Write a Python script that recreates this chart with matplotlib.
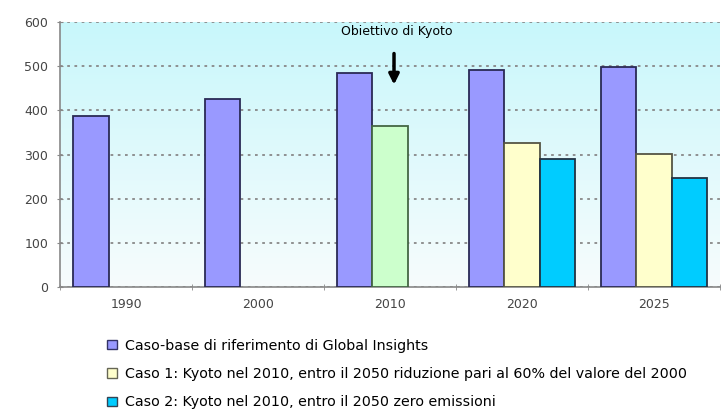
import matplotlib.pyplot as plt
import numpy as np
from matplotlib.patches import Patch
from matplotlib.colors import LinearSegmentedColormap

years = ['1990', '2000', '2010', '2020', '2025']
base = [387, 425, 484, 491, 498]
caso1 = [np.nan, np.nan, 364, 326, 301]
caso2 = [np.nan, np.nan, np.nan, 290, 247]

labels = ['Caso-base di riferimento di Global Insights',
          'Caso 1: Kyoto nel 2010, entro il 2050 riduzione pari al 60% del valore del 2000',
          'Caso 2: Kyoto nel 2010, entro il 2050 zero emissioni']

fig = plt.figure(figsize=(7.25, 4.16), dpi=100)
ax = fig.add_axes([0.083, 0.31, 0.910, 0.637])

# sfondo sfumato azzurro
grad = np.linspace(0, 1, 256).reshape(-1, 1)
cmap = LinearSegmentedColormap.from_list('bg', ['#f7fcfd', '#c8f7fb'])
ax.imshow(grad, aspect='auto', cmap=cmap, origin='lower',
          extent=[-0.5, 4.5, 0, 600], zorder=0)

x = np.arange(len(years))
w = 0.267
c1_colors = ['#ffffcc', '#ffffcc', '#ccffcc', '#ffffcc', '#ffffcc']
c1_edges = ['#555544', '#555544', '#446644', '#555544', '#555544']
ax.bar(x - w, base, w, color='#9999ff', edgecolor='#2a2a55', linewidth=1.3, zorder=3)
ax.bar(x, caso1, w, color=c1_colors, edgecolor=c1_edges, linewidth=1.3, zorder=3)
ax.bar(x + w, caso2, w, color='#00ccff', edgecolor='#223344', linewidth=1.3, zorder=3)

ax.set_xlim(-0.5, 4.5)
ax.set_ylim(0, 600)
ax.set_yticks(range(0, 601, 100))
ax.set_xticks(x)
ax.set_xticklabels(years)
ax.set_xticks(np.arange(-0.5, 4.6, 1), minor=True)
ax.tick_params(axis='x', which='major', length=0, pad=8, labelsize=9, labelcolor='#444444')
ax.tick_params(axis='x', which='minor', length=4, direction='inout', color='#888888')
ax.tick_params(axis='y', length=5, direction='inout', color='#888888', labelsize=9,
               labelcolor='#444444', pad=6)
ax.yaxis.grid(True, linestyle=(0, (1.5, 2.5)), color='#888888', linewidth=1.3, zorder=1)
ax.set_axisbelow(True)
for s in ['top', 'right']:
    ax.spines[s].set_visible(False)
for s in ['left', 'bottom']:
    ax.spines[s].set_color('#888888')
    ax.spines[s].set_linewidth(1.2)

ax.text(2.05, 578, 'Obiettivo di Kyoto', ha='center', va='center', fontsize=9,
        color='black', zorder=5)
ax.annotate('', xy=(2.03, 452), xytext=(2.03, 535),
            arrowprops=dict(arrowstyle='-|>,head_width=0.3,head_length=0.6', color='black', lw=2.5),
            zorder=5)

handles = [Patch(facecolor='#9999ff', edgecolor='#333366'),
           Patch(facecolor='#ffffcc', edgecolor='#666655'),
           Patch(facecolor='#00ccff', edgecolor='#334455')]
fig.legend(handles, labels, loc='upper left', bbox_to_anchor=(0.138, 0.203),
           frameon=False, fontsize=10.3, handlelength=0.65, handleheight=0.65,
           handletextpad=0.6, labelspacing=1.0, borderpad=0)

fig.savefig('out.png', dpi=100)
